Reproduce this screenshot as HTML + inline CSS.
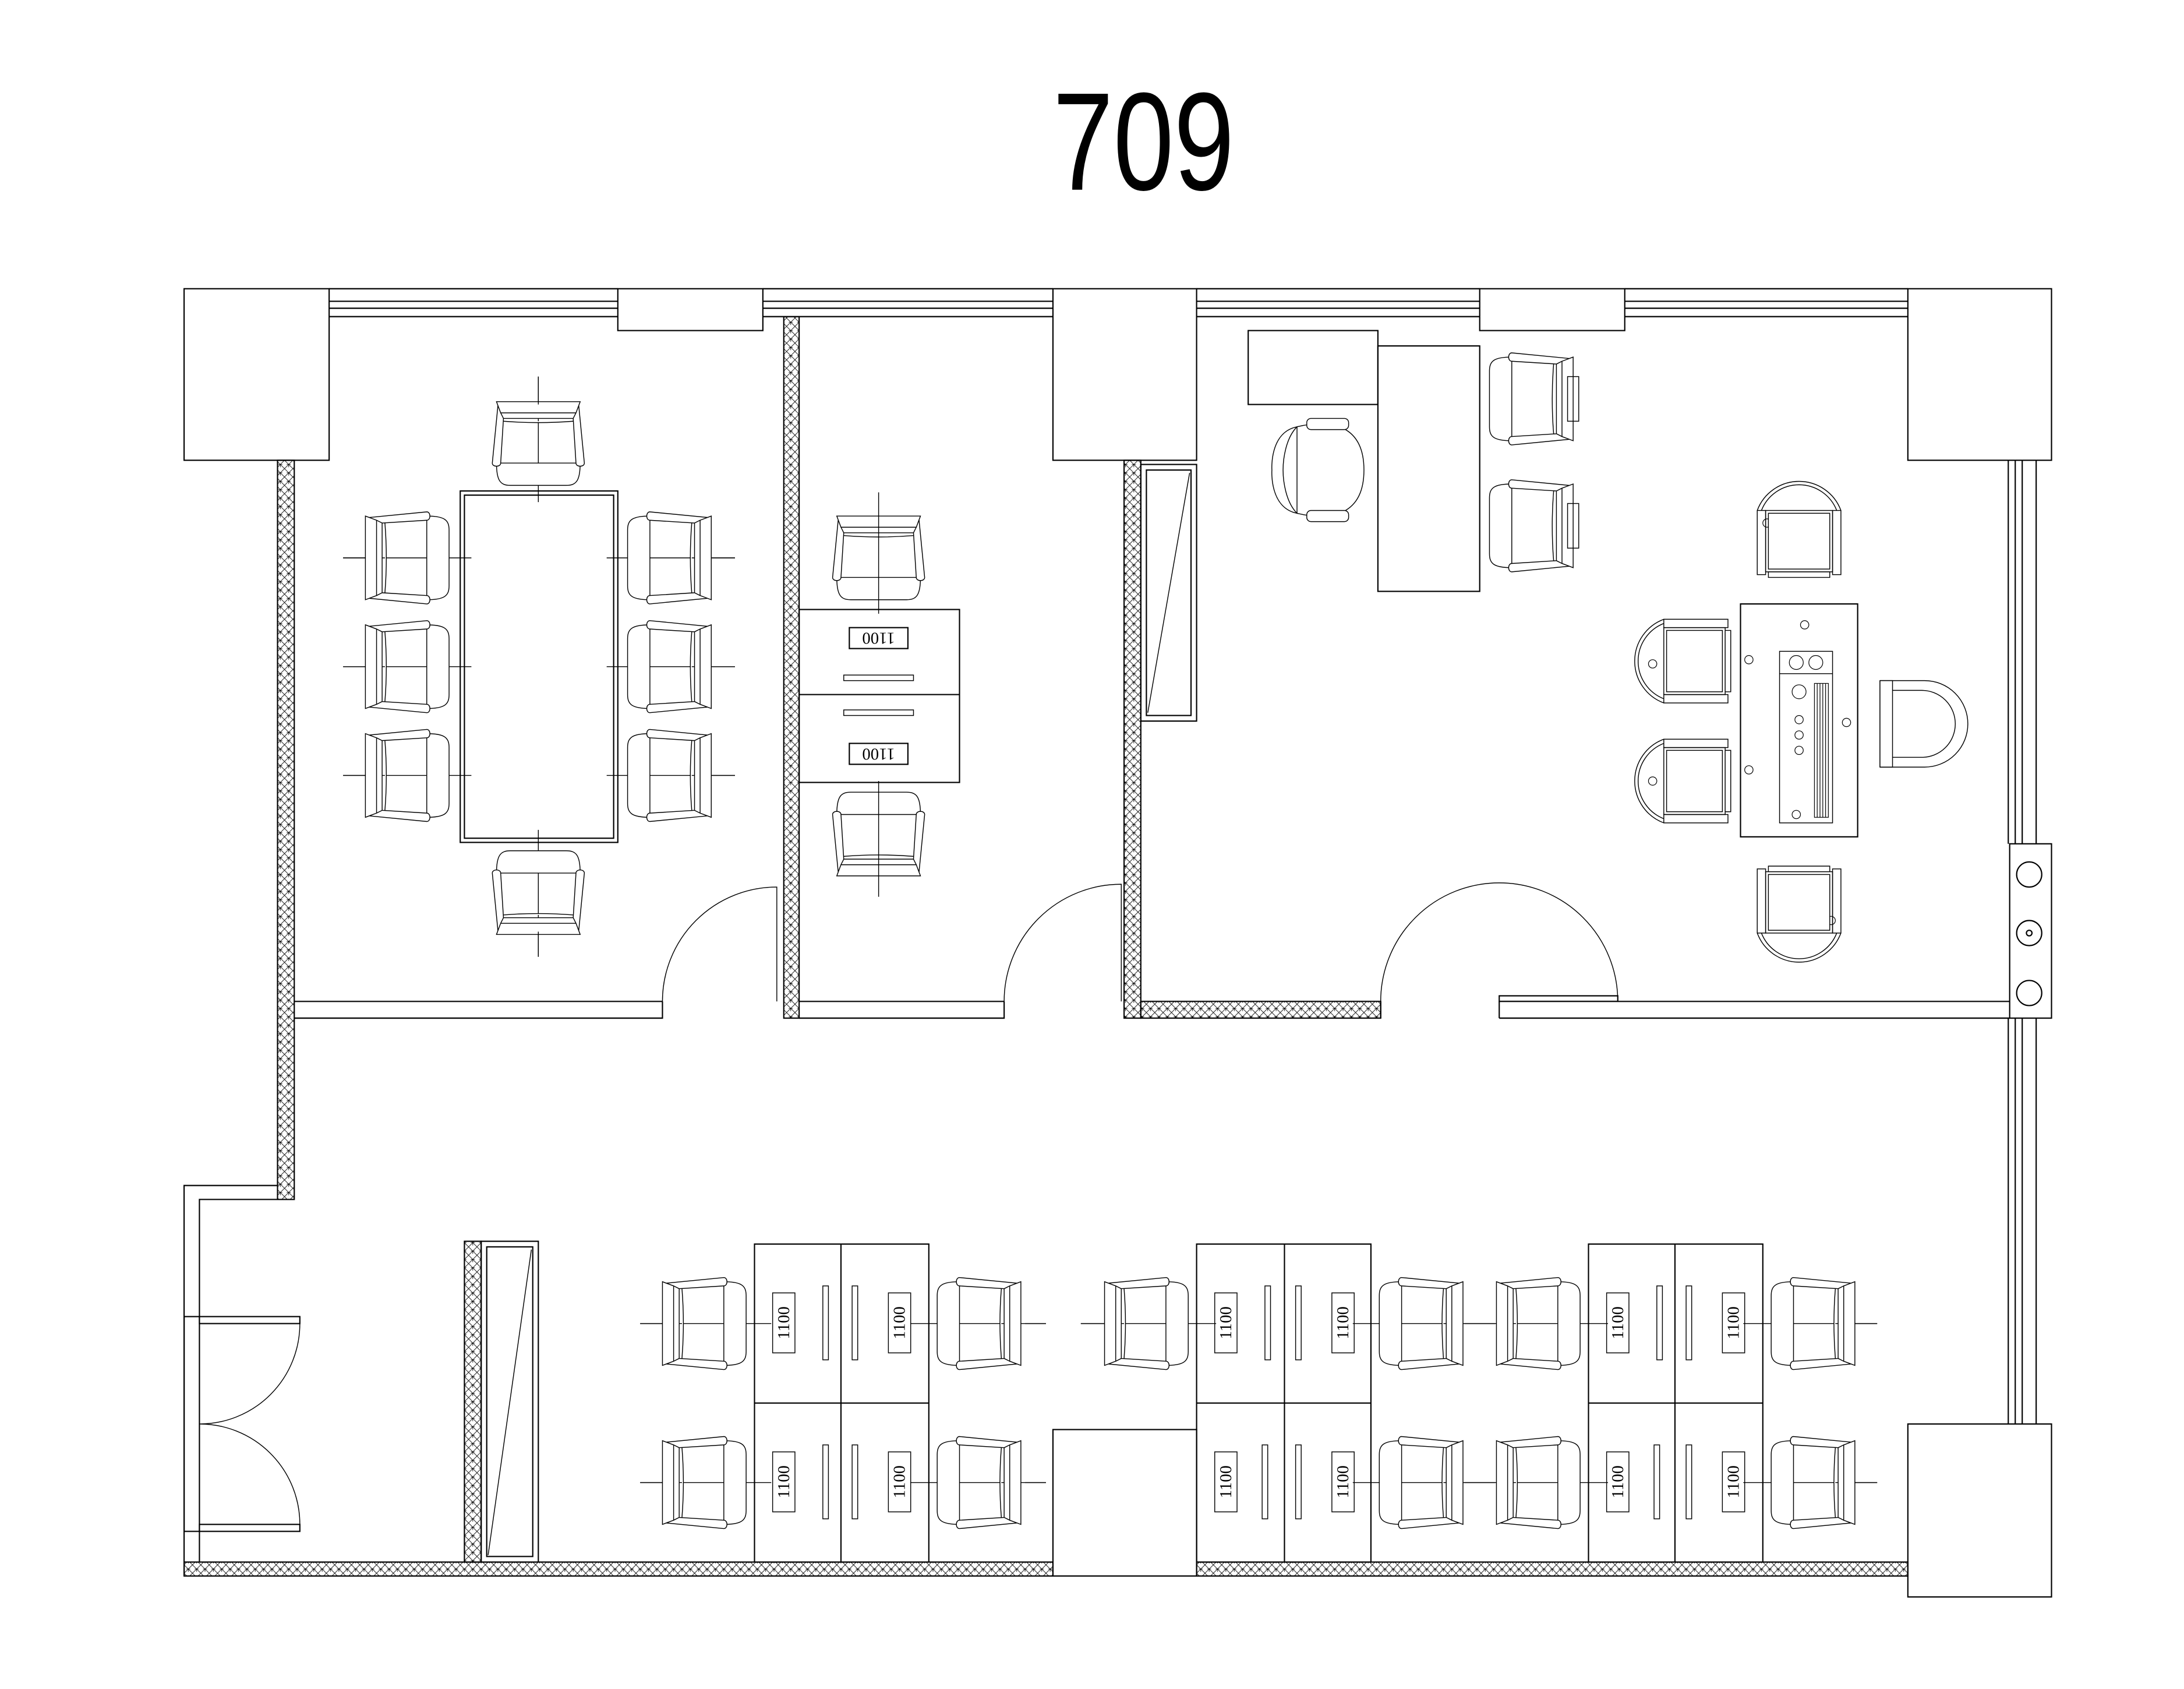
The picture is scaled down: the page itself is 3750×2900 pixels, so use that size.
<!DOCTYPE html>
<html><head><meta charset="utf-8"><style>
html,body{margin:0;padding:0;background:#fff;}
svg{display:block;}
</style></head><body>
<svg width="3750" height="2900" viewBox="0 0 1566 1211" xmlns="http://www.w3.org/2000/svg">
<defs>
<pattern id="h" width="6" height="6" patternUnits="userSpaceOnUse">
<path d="M0,0 L6,6 M6,0 L0,6" stroke="#000" stroke-width="0.35" fill="none"/>
<path d="M1.5,3 L4.5,3 M3,3 L3,5" stroke="#000" stroke-width="0.35"/>
</pattern>
<g id="ch" fill="#fff" stroke="#000" stroke-width="0.6">
<path d="M-14,-30 C-27,-30 -30,-27 -30,-20 L-30,20 C-30,27 -27,30 -14,30 Z"/>
<path d="M-14,-33 L27,-29 L27,29 L-14,33 C-17,33 -17,27 -14,27 L18,25 L18,-25 L-14,-27 C-17,-27 -17,-33 -14,-33 Z"/>
<path d="M22,-27 L30,-30 L30,30 L22,27 Z"/>
<path d="M18,-25 L22,-27 M18,25 L22,27"/>
<path d="M16,-25 Q14,0 16,25"/>
</g>
<g id="tc" fill="#fff" stroke="#000" stroke-width="0.6">
<rect x="-22" y="-20" width="44" height="40"/>
<rect x="-24" y="-22" width="48" height="44" fill="none"/>
<path d="M-30,-22 A32,32 0 0 1 30,-22 M-27,-22 A29,29 0 0 1 27,-22" fill="none"/>
<rect x="-30" y="-22" width="6" height="46" fill="none"/>
<rect x="24" y="-22" width="6" height="46" fill="none"/>
<path d="M-22,22 L22,22 L22,26 L-22,26 Z"/>
</g>
</defs>
<g fill="none" stroke="#000" stroke-width="0.9">
<text x="820" y="136" font-family="Liberation Sans Narrow, Liberation Sans, sans-serif" font-size="100" text-anchor="middle" fill="#000" stroke="none" transform="translate(820,0) scale(0.78,1) translate(-820,0)">709</text>

<!-- columns -->
<rect x="132" y="207" width="104" height="123"/>
<rect x="1368" y="207" width="103" height="123"/>
<rect x="755" y="207" width="103" height="123"/>
<rect x="443" y="207" width="104" height="30"/>
<rect x="1061" y="207" width="104" height="30"/>
<rect x="1368" y="1021" width="103" height="124"/>
<rect x="755" y="1025" width="103" height="105"/>
<!-- windows -->
<path d="M236,207H443M236,216H443M236,221H443M236,227H443"/>
<path d="M547,207H755M547,216H755M547,221H755M547,227H755"/>
<path d="M858,207H1061M858,216H1061M858,221H1061M858,227H1061"/>
<path d="M1165,207H1368M1165,216H1368M1165,221H1368M1165,227H1368"/>
<!-- right window -->
<path d="M1440,330V605M1445,330V605M1450,330V605M1460,330V605"/>
<path d="M1440,730V1021M1445,730V1021M1450,730V1021M1460,730V1021"/>
<rect x="1441" y="605" width="30" height="125"/>
<circle cx="1455" cy="627" r="9"/><circle cx="1455" cy="669" r="9"/><circle cx="1455" cy="712" r="9"/>
<circle cx="1455" cy="669" r="2"/>

<!-- hatched walls -->
<g fill="url(#h)">
<rect x="199" y="330" width="12" height="530"/>
<rect x="562" y="227" width="11" height="503"/>
<rect x="806" y="330" width="12" height="400"/>
<rect x="818" y="718" width="172" height="12"/>
<rect x="132" y="1120" width="623" height="10"/>
<rect x="858" y="1120" width="510" height="10"/>
<rect x="333" y="890" width="12" height="230"/>
</g>
<!-- left entry walls -->
<path d="M199,850H132V1130M199,860H143V944M143,1098V1120"/>
<rect x="132" y="944" width="11" height="154"/>
<rect x="143" y="944" width="72" height="5"/>
<rect x="143" y="1093" width="72" height="5"/>
<path d="M215,949 A72,72 0 0 1 143,1021 M143,1021 A72,72 0 0 1 215,1093" stroke-width="0.6"/>
<!-- lower-left cabinet -->
<rect x="345" y="890" width="41" height="230"/>
<rect x="349" y="894" width="33" height="222"/>
<path d="M381,896 L350,1115" stroke-width="0.6"/>
<!-- upper cabinet -->
<rect x="818" y="333" width="40" height="184"/>
<rect x="822" y="337" width="32" height="176"/>
<path d="M853,339 L823,511" stroke-width="0.6"/>

<!-- horizontal partition -->
<path d="M211,718H475M211,730H475V718"/>
<path d="M573,718H720M573,730H720V718"/>
<path d="M1075,718H1441M1075,730H1441M1075,718V730M990,718V730"/>
<path d="M475,718 A82,82 0 0 1 557,636 V718" stroke-width="0.6"/>
<path d="M720,718 A84,84 0 0 1 804,634 V718" stroke-width="0.6"/>
<path d="M990,718 A85,85 0 0 1 1160,718" stroke-width="0.6"/>
<rect x="1075" y="714" width="85" height="4"/>

<!-- meeting room -->
<rect x="330" y="352" width="113" height="252"/>
<rect x="333" y="355" width="107" height="246"/>
<g stroke-width="0.6">
<path d="M246,400H338M246,478H338M246,556H338M435,400H527M435,478H527M435,556H527M386,270V360M386,595V686"/>
</g>
<use href="#ch" transform="translate(292,400) rotate(180)"/>
<use href="#ch" transform="translate(292,478) rotate(180)"/>
<use href="#ch" transform="translate(292,556) rotate(180)"/>
<use href="#ch" transform="translate(480,400)"/>
<use href="#ch" transform="translate(480,478)"/>
<use href="#ch" transform="translate(480,556)"/>
<use href="#ch" transform="translate(386,318) rotate(-90)"/>
<use href="#ch" transform="translate(386,640) rotate(90)"/>
<path d="M246,400H262M246,478H262M246,556H262M510,400H527M510,478H527M510,556H527M386,270V290M386,668V686" stroke-width="0.6"/>

<!-- office 2 -->
<rect x="573" y="437" width="115" height="124"/>
<path d="M573,498H688"/>
<rect x="609" y="450" width="42" height="15"/>
<rect x="609" y="533" width="42" height="15"/>
<text transform="translate(630,457.5) rotate(180)" font-family="Liberation Serif, serif" font-size="12" fill="#000" stroke="none" text-anchor="middle" dominant-baseline="central">1100</text>
<text transform="translate(630,540.5) rotate(180)" font-family="Liberation Serif, serif" font-size="12" fill="#000" stroke="none" text-anchor="middle" dominant-baseline="central">1100</text>
<rect x="605" y="484" width="50" height="4" stroke-width="0.6"/>
<rect x="605" y="509" width="50" height="4" stroke-width="0.6"/>
<use href="#ch" transform="translate(630,400) rotate(-90)"/>
<use href="#ch" transform="translate(630,598) rotate(90)"/>
<path d="M630,353V440M630,560V643" stroke-width="0.6"/>

<!-- office 3 -->
<rect x="895" y="237" width="93" height="53"/>
<rect x="988" y="248" width="73" height="176"/>
<g stroke-width="0.6" fill="#fff">
<path d="M930,306 C955,300 978,305 978,337 C978,369 955,374 930,368 Z"/>
<path d="M930,306 C910,310 912,337 912,337 C912,337 910,364 930,368 C922,360 920,345 920,337 C920,329 922,314 930,306 Z"/>
<rect x="937" y="300" width="30" height="8" rx="3"/>
<rect x="937" y="366" width="30" height="8" rx="3"/>
</g>
<use href="#ch" transform="translate(1098,286)"/>
<use href="#ch" transform="translate(1098,377)"/>
<rect x="1124" y="270" width="8" height="32" stroke-width="0.6"/>
<rect x="1124" y="361" width="8" height="32" stroke-width="0.6"/>

<!-- tea table -->
<rect x="1248" y="433" width="84" height="167"/>
<rect x="1276" y="467" width="38" height="123" stroke-width="0.6"/>
<path d="M1276,483H1314" stroke-width="0.6"/>
<circle cx="1288" cy="475" r="5" stroke-width="0.5"/><circle cx="1302" cy="475" r="5" stroke-width="0.5"/>
<rect x="1301" y="490" width="10" height="96" stroke-width="0.5"/>
<path d="M1303,490V586M1305,490V586M1307,490V586M1309,490V586" stroke-width="0.5"/>
<g stroke-width="0.5">
<circle cx="1290" cy="496" r="5"/><circle cx="1290" cy="516" r="3"/><circle cx="1290" cy="527" r="3"/><circle cx="1290" cy="538" r="3"/>
<circle cx="1294" cy="448" r="3"/><circle cx="1288" cy="584" r="3"/><circle cx="1254" cy="473" r="3"/><circle cx="1254" cy="552" r="3"/><circle cx="1324" cy="518" r="3"/>
<circle cx="1185" cy="476" r="3"/><circle cx="1185" cy="560" r="3"/><circle cx="1267" cy="375" r="3"/><circle cx="1313" cy="660" r="3"/>
</g>
<use href="#tc" transform="translate(1290,388)"/>
<use href="#tc" transform="translate(1290,647) rotate(180)"/>
<use href="#tc" transform="translate(1215,474) rotate(-90)"/>
<use href="#tc" transform="translate(1215,560) rotate(-90)"/>
<g stroke-width="0.6" fill="#fff">
<path d="M1348,488 L1348,550 M1348,488 H1380 A31,31 0 0 1 1380,550 H1348"/>
<path d="M1348,495 H1378 A24,24 0 0 1 1378,543 H1348" fill="none"/>
<path d="M1348,488V550H1357V488Z"/>
</g>

<!-- workstations -->
<rect x="541" y="892" width="125" height="228"/>
<rect x="858" y="892" width="125" height="228"/>
<rect x="1139" y="892" width="125" height="228"/>
<path d="M541,1006H666M603,892V1120M858,1006H983M921,892V1120M1139,1006H1264M1201,892V1120"/>
<g stroke-width="0.6">
<path d="M459,949H553M653,949H750M775,949H872M970,949H1153M1250,949H1346"/>
<path d="M459,1063H553M653,1063H750M970,1063H1153M1250,1063H1346"/>
</g>
<g font-family="Liberation Serif, serif" font-size="12" fill="#000" stroke="none" text-anchor="middle" dominant-baseline="central">
</g>
<use href="#ch" transform="translate(505,949) rotate(180)"/>
<use href="#ch" transform="translate(702,949)"/>
<use href="#ch" transform="translate(822,949) rotate(180)"/>
<use href="#ch" transform="translate(1019,949)"/>
<use href="#ch" transform="translate(1103,949) rotate(180)"/>
<use href="#ch" transform="translate(1300,949)"/>
<use href="#ch" transform="translate(505,1063) rotate(180)"/>
<use href="#ch" transform="translate(702,1063)"/>
<use href="#ch" transform="translate(1019,1063)"/>
<use href="#ch" transform="translate(1103,1063) rotate(180)"/>
<use href="#ch" transform="translate(1300,1063)"/>
<path d="M459,949H475M735,949H750M775,949H792M1050,949H1072M1330,949H1346M459,1063H475M735,1063H750M1050,1063H1072M1330,1063H1346" stroke-width="0.6"/>

<g stroke-width="0.6">
<!-- left cells label at +13, slot +49; right cells slot +8, label +34 -->
<rect x="554" y="927" width="16" height="43"/><rect x="590" y="922" width="4" height="53"/>
<rect x="611" y="922" width="4" height="53"/><rect x="637" y="927" width="16" height="43"/>
<rect x="554" y="1041" width="16" height="43"/><rect x="590" y="1036" width="4" height="53"/>
<rect x="611" y="1036" width="4" height="53"/><rect x="637" y="1041" width="16" height="43"/>
<rect x="871" y="927" width="16" height="43"/><rect x="907" y="922" width="4" height="53"/>
<rect x="929" y="922" width="4" height="53"/><rect x="955" y="927" width="16" height="43"/>
<rect x="871" y="1041" width="16" height="43"/><rect x="905" y="1036" width="4" height="53"/>
<rect x="929" y="1036" width="4" height="53"/><rect x="955" y="1041" width="16" height="43"/>
<rect x="1152" y="927" width="16" height="43"/><rect x="1188" y="922" width="4" height="53"/>
<rect x="1209" y="922" width="4" height="53"/><rect x="1235" y="927" width="16" height="43"/>
<rect x="1152" y="1041" width="16" height="43"/><rect x="1186" y="1036" width="4" height="53"/>
<rect x="1209" y="1036" width="4" height="53"/><rect x="1235" y="1041" width="16" height="43"/>
</g>
<g font-family="Liberation Serif, serif" font-size="12" fill="#000" stroke="none" text-anchor="middle" dominant-baseline="central">
<text transform="translate(562,948.5) rotate(-90)">1100</text>
<text transform="translate(645,948.5) rotate(-90)">1100</text>
<text transform="translate(562,1062.5) rotate(-90)">1100</text>
<text transform="translate(645,1062.5) rotate(-90)">1100</text>
<text transform="translate(879,948.5) rotate(-90)">1100</text>
<text transform="translate(963,948.5) rotate(-90)">1100</text>
<text transform="translate(879,1062.5) rotate(-90)">1100</text>
<text transform="translate(963,1062.5) rotate(-90)">1100</text>
<text transform="translate(1160,948.5) rotate(-90)">1100</text>
<text transform="translate(1243,948.5) rotate(-90)">1100</text>
<text transform="translate(1160,1062.5) rotate(-90)">1100</text>
<text transform="translate(1243,1062.5) rotate(-90)">1100</text>
</g>
</g>
</svg>
</body></html>
